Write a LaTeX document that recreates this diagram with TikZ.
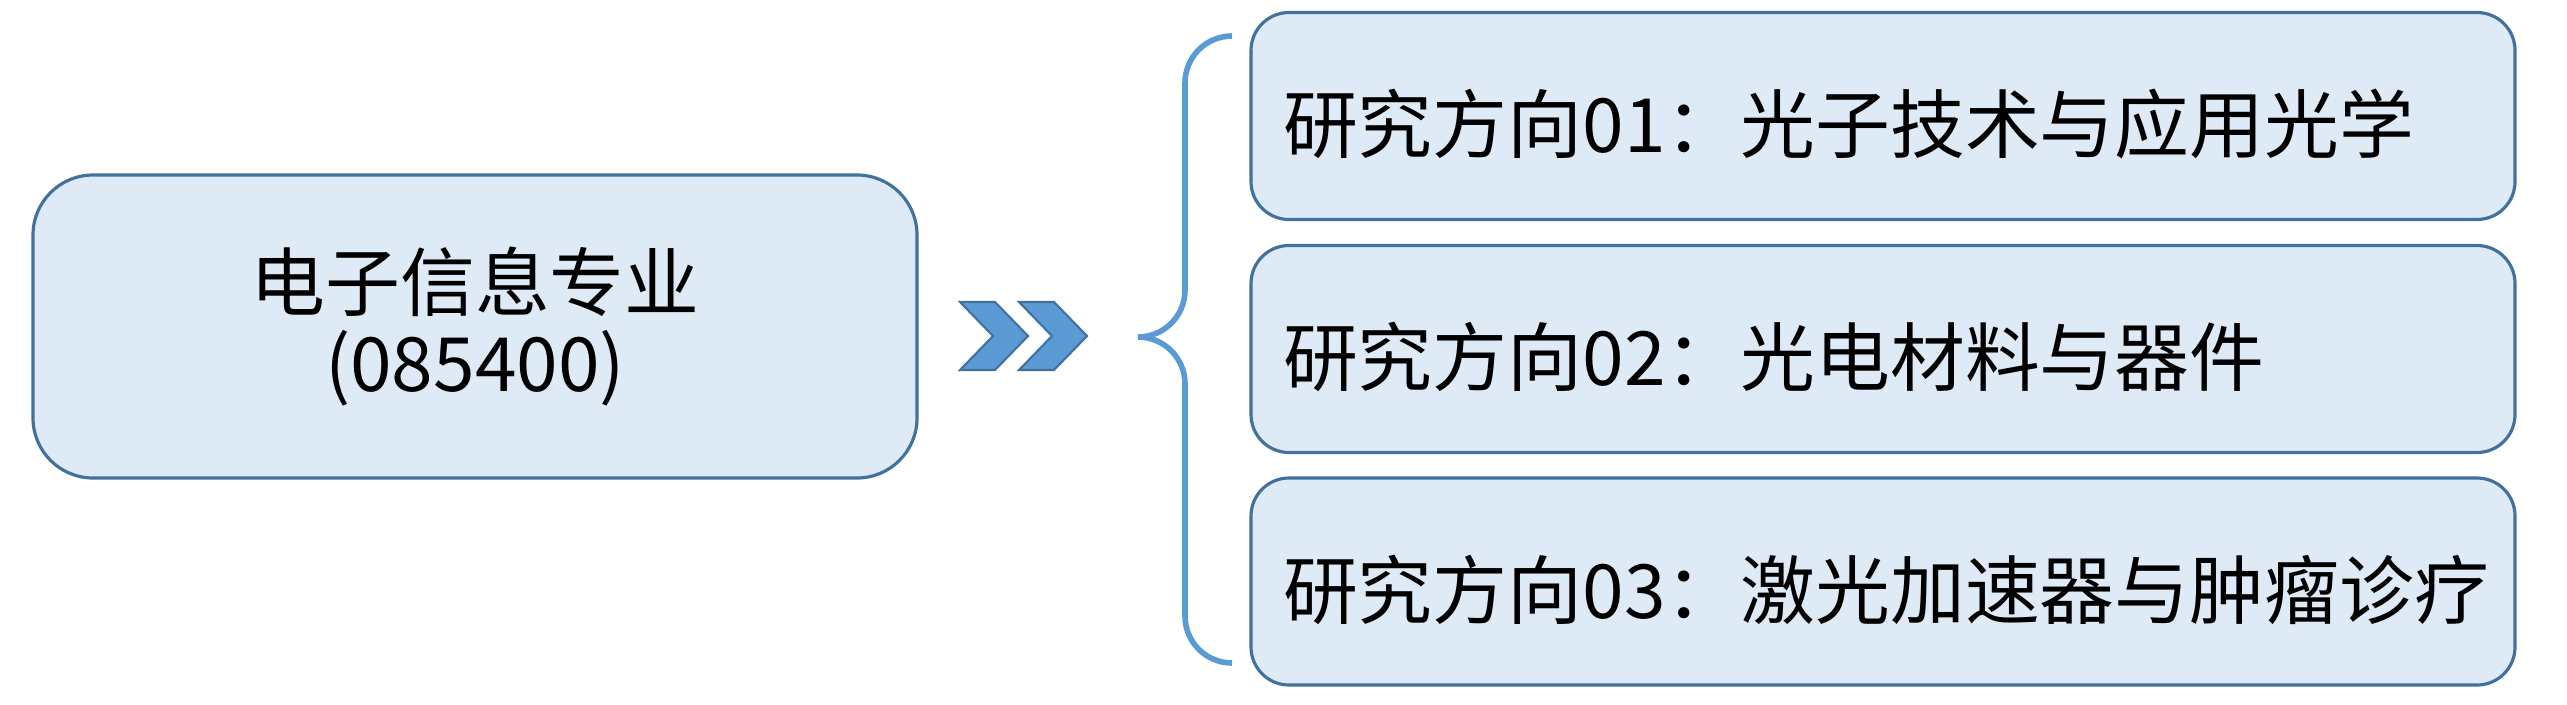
\documentclass[tikz,border=0pt]{standalone}
\usepackage{fontspec}
\setmainfont{Noto Sans CJK SC}
\definecolor{boxfill}{HTML}{DEEBF7}
\definecolor{boxline}{HTML}{41719C}
\definecolor{accent}{HTML}{5B9BD5}

\begin{document}
\begin{tikzpicture}[
  major/.style={draw=boxline,fill=boxfill,line width=0.9pt,rounded corners=0.6cm,
    minimum width=8.84cm,minimum height=3.03cm,align=center,
    font=\fontsize{21.3}{23.3}\selectfont},
  topic/.style={draw=boxline,fill=boxfill,line width=0.9pt,rounded corners=0.38cm,
    minimum height=2.07cm,text width=12cm,inner xsep=0.32cm,align=left,
    text height=0.83cm,text depth=0.1cm,
    font=\fontsize{21.3}{23.3}\selectfont},
  chevron/.style={draw=boxline,fill=accent,line width=0.6pt,line join=miter},
  brace/.style={draw=accent,line width=1.6pt}]
  \useasboundingbox (0,0) rectangle (25.67,-7.04);
  \node[major] (zy) at (4.75,-3.265) {电子信息专业\\(085400)};
  \node[topic] (d1) at (18.83,-1.16)  {研究方向01：光子技术与应用光学};
  \node[topic] (d2) at (18.83,-3.49)  {研究方向02：光电材料与器件};
  \node[topic] (d3) at (18.83,-5.815) {研究方向03：激光加速器与肿瘤诊疗};
  \foreach \x in {9.60,10.19} {
   \draw[chevron] (\x,-3.02) -- ++(0.35,0) -- ++(0.33,-0.34) -- ++(-0.33,-0.34)
     -- ++(-0.35,0) -- ++(0.33,0.34) -- cycle;
  }
  \coordinate (bt) at (12.32,-0.36);
  \coordinate (tip) at (11.38,-3.37);
  \coordinate (bb) at (12.32,-6.63);
  \draw[brace] (bt) to[out=180,in=90] (11.85,-0.83) -- (11.85,-2.90)
    to[out=-90,in=0] (tip) to[out=0,in=90] (11.85,-3.84) -- (11.85,-6.16)
    to[out=-90,in=180] (bb);
\end{tikzpicture}
\end{document}
